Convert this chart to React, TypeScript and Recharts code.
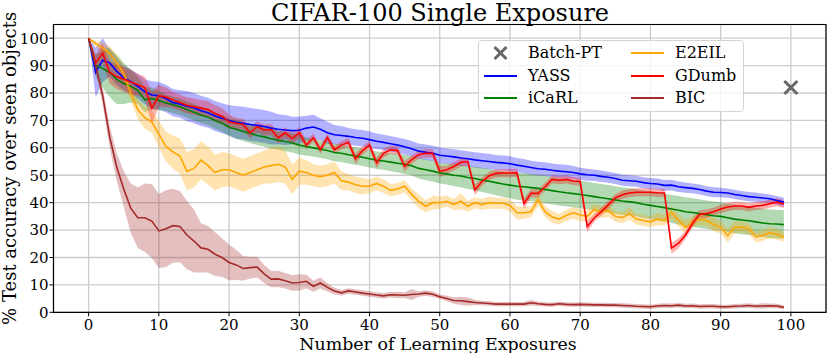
import {
  ComposedChart,
  Area,
  Line,
  Scatter,
  XAxis,
  YAxis,
  CartesianGrid,
  ReferenceArea,
} from "recharts";

// exposures 0..99
const exposures = Array.from({ length: 100 }, (_, i) => i);
const xTicks = [0, 10, 20, 30, 40, 50, 60, 70, 80, 90, 100];
const yTicks = [0, 10, 20, 30, 40, 50, 60, 70, 80, 90, 100];

const yassMean = [
  100, 87.5, 92, 91, 88, 85.5, 84.2, 82.4, 80.5, 79.3,
  79, 78, 76.5, 76, 75.2, 74.5, 73.5, 72.8, 71.6, 70.8,
  70, 69.3, 69, 68.5, 68.2, 67.8, 67.2, 66.8, 66.5, 66.3,
  66.4, 67.2, 67.6, 66.8, 65.5, 64.8, 64.5, 64.2, 63.8, 63.5,
  63, 62.4, 62, 61.5, 61, 60.4, 59.7, 58.8, 58.4, 58,
  57.3, 57, 56.7, 56.3, 56, 55.6, 55.3, 55, 54.7, 54.5,
  54.2, 53.7, 53.3, 52.8, 52.4, 52.2, 51.8, 51.5, 51.3, 51,
  50.5, 50.2, 50, 49.6, 49.3, 48.8, 48.2, 48, 47.8, 47.3,
  47, 46.8, 46.3, 46.4, 45.8, 45.5, 45.2, 44.8, 44.2, 43.8,
  43.7, 43.5, 43, 42.6, 42.2, 42, 41.7, 41.4, 40.8, 40.2,
];
const yassSpread = [
  0, 9, 8, 5, 5, 4.5, 4.5, 4.5, 4.5, 5,
  5, 5, 5, 5, 5.5, 5.5, 5.5, 5.5, 5.5, 5.5,
  5.5, 6, 6, 6, 6, 6, 6, 5.5, 5.5, 5,
  5, 4.5, 4.5, 4, 4, 3.5, 3.5, 3, 3, 3,
  3, 2.8, 2.8, 2.8, 2.8, 2.8, 2.8, 2.8, 2.8, 2.8,
  2.8, 2.8, 2.8, 2.8, 2.8, 2.8, 2.8, 2.8, 2.7, 2.7,
  2.7, 2.6, 2.6, 2.5, 2.5, 2.5, 2.5, 2.5, 2.5, 2.4,
  2.2, 2.2, 2.1, 2.1, 2, 2, 2, 2, 2, 2,
  2, 2, 2, 2, 1.9, 1.9, 1.8, 1.8, 1.8, 1.8,
  1.7, 1.7, 1.7, 1.7, 1.7, 1.7, 1.6, 1.6, 1.6, 1.6,
];

const icarlMean = [
  100, 90, 89, 87.5, 85, 83.5, 82.5, 81, 77.5, 78,
  77.3, 76.4, 75.7, 75, 74, 73, 72, 71.2, 70, 69,
  67.5, 66.8, 66, 65.3, 64.5, 64, 63.3, 62.8, 62.3, 61.8,
  61, 60.5, 60, 59.5, 59, 58.3, 58, 57.5, 57, 56.6,
  56, 55.5, 55.2, 54.8, 54.4, 54, 53.5, 52.5, 52, 51.5,
  50.8, 50.5, 50, 49.7, 49.2, 48.8, 48.3, 47.8, 47.3, 46.8,
  46.4, 46, 45.8, 45.5, 45.2, 44.8, 44.4, 44, 43.6, 43.3,
  43, 42.6, 42.2, 41.8, 41.4, 41, 40.6, 40.3, 40, 39.4,
  39, 38.6, 38.2, 37.7, 37.2, 36.7, 36.4, 36, 35.6, 35.2,
  35, 34.5, 34, 33.7, 33.4, 33, 32.6, 32.3, 32.2, 32,
];
const icarlSpread = [
  0, 4, 7, 9, 9, 7.5, 6, 5, 4.5, 4,
  3.5, 3, 3, 3, 3, 3, 3, 3, 3, 3,
  3.2, 3.5, 3.5, 3.5, 3.5, 3.5, 3.5, 3.5, 3.5, 3.5,
  3.5, 3.3, 3.2, 3.2, 3.2, 3.2, 3.2, 3.2, 3.2, 3.2,
  3.2, 3.2, 3.2, 3.3, 3.4, 3.5, 3.6, 3.7, 3.8, 3.8,
  3.8, 3.9, 4, 4.1, 4.2, 4.3, 4.4, 4.5, 4.6, 4.7,
  4.8, 4.9, 5, 5, 5, 5, 5, 5, 5, 5,
  5, 5, 5, 5, 5, 5, 5, 5, 5, 5,
  5, 5.1, 5.1, 5.1, 5.2, 5.2, 5.2, 5.2, 5.2, 5.2,
  5.2, 5.2, 5.2, 5.2, 5.2, 5.2, 5.2, 5.2, 5.2, 5.2,
];

const e2eilMean = [
  100, 98, 96.5, 94.5, 91, 87, 80, 74, 71, 69.5,
  65, 60.5, 58.5, 57, 51.5, 52.5, 55.5, 53.5, 51, 52,
  52, 51, 50, 51, 52, 53, 53.5, 54, 53, 48.5,
  51.5, 51, 50, 49.5, 50, 51, 48, 47.5, 46.5, 46,
  46, 47, 46, 44.5, 45, 46, 43, 40.5, 38.7, 40,
  40, 40.5, 39.3, 40.5, 38.7, 40, 39.3, 40, 39.8, 39.8,
  39, 36.3, 36.3, 36.7, 41, 36.7, 34.8, 34, 35.3, 36.3,
  35.5, 35, 37.5, 36.5, 37, 35, 34.5, 36, 34, 33.5,
  33, 34, 33.5, 36.5, 33.5, 31, 33, 34, 33.5, 32,
  31, 28, 31, 31, 30.5, 27.5, 28, 29, 28.5, 27.5,
];
const e2eilSpread = [
  0, 1, 2, 2.5, 3, 3, 3, 3.5, 4, 4,
  5, 5.5, 6, 6.5, 7, 7, 7, 7, 6.5, 6.5,
  6, 6, 6, 6, 6, 6, 6.5, 6.5, 6, 5.5,
  5, 4.5, 4, 4, 4, 4, 3.5, 3, 3, 3,
  2.5, 2.5, 2.5, 2.2, 2.2, 2.2, 2.2, 2.5, 2.2, 2.5,
  2.2, 2, 2, 3, 2, 2, 2, 2.2, 2, 2,
  2.2, 2.5, 2.2, 2, 2.2, 2, 2.2, 2, 2, 2.2,
  2.2, 2, 2.2, 2, 2.2, 2, 2, 2.2, 2, 2,
  2, 2.2, 2, 2.5, 2.2, 2.5, 2, 2.2, 2, 2.5,
  2.2, 2.5, 2.2, 2, 2, 2, 2, 2, 2, 1.8,
];

const gdumbMean = [
  100, 91, 94.5, 87.5, 86, 85, 84, 83, 82, 74.5,
  79, 78.5, 77.5, 76.5, 75.5, 75, 74.5, 74, 72.5, 71.5,
  69.5, 69, 68.5, 65.5, 67.7, 66.5, 66.7, 63.7, 65.5, 63.4,
  65.5, 61, 63.7, 59.3, 63.7, 59.3, 61, 62, 56, 59,
  61, 54.5, 58, 59.3, 59, 53.2, 55.7, 57.5, 58, 58,
  51.4, 52, 53.2, 54.7, 55, 44.6, 47.7, 49.7, 50.7, 50.8,
  50.8, 50.9, 39.7, 43.4, 43.4, 45.8, 48.5, 48.2, 48.5, 47.9,
  47.7, 31.3, 34.4, 36.7, 39.2, 41.7, 42.9, 43.5, 43.8, 43.8,
  43.8, 43.6, 43.5, 23.4, 25.2, 28.2, 32.5, 35.8, 36, 36.7,
  37.7, 38.4, 38.8, 38.8, 38.3, 38.8, 39, 39.6, 40.2, 39.5,
];
const gdumbSpread = [
  0, 3, 3.5, 4, 4.5, 4.5, 4.5, 4, 4, 6,
  4, 3.5, 3, 3, 3, 3, 3, 3, 3, 3,
  2.5, 2, 2, 2, 2, 2, 2, 2, 2, 2,
  2, 1.5, 1.5, 1.5, 1.5, 1.5, 1.5, 1.5, 2, 1.5,
  1.5, 2, 1.5, 1.5, 1.5, 2, 1.5, 1.5, 1.5, 1.5,
  2, 1.5, 1.5, 1.5, 1.5, 2, 1.5, 1.5, 1.5, 1.5,
  1.5, 1.5, 2, 1.5, 1.5, 1.5, 1.5, 1.5, 1.5, 1.5,
  1.5, 2, 1.5, 1.5, 1.5, 1.5, 1.5, 1.5, 1.5, 1.5,
  1.5, 1.5, 1.5, 2, 1.8, 1.5, 1.5, 1.5, 1.5, 1.5,
  1.5, 1.5, 1.5, 1.5, 1.5, 1.5, 1.5, 1.5, 1.5, 1.5,
];

const bicMean = [
  100, 90, 79, 64, 53, 45, 38, 34.5, 34.5, 33.3,
  29.7, 30.5, 31.6, 31.3, 28.2, 26, 23.5, 23, 21.2, 20,
  18.2, 17.3, 16, 16.3, 16.5, 14, 12.1, 12.2, 11.5, 10.7,
  10.9, 11.3, 9.5, 10.7, 9.1, 7.8, 7.1, 7.8, 7.4, 7,
  6.7, 6.3, 6, 6.4, 6.3, 6.2, 6.5, 6.7, 7, 6.6,
  5.7, 5, 4.3, 4.2, 3.9, 3.6, 3.4, 3.2, 3, 3,
  3, 3, 3, 3.5, 3.1, 2.9, 2.8, 3.1, 2.9, 2.8,
  2.9, 2.8, 2.7, 2.7, 2.6, 2.6, 2.5, 2.4, 2.2, 2.1,
  2, 2.3, 2.5, 2.4, 2.6, 2.3, 2.4, 2.1, 2.2, 2.2,
  2, 2, 2.2, 2.3, 2.5, 2.2, 2.3, 2.4, 2.3, 1.8,
];
const bicSpread = [
  0, 2, 3, 4, 5, 6.5, 9, 11, 12.5, 13.5,
  13.5, 14, 13.5, 13, 12.5, 11.5, 9, 8.5, 8, 7,
  6.5, 5.5, 4.5, 4, 3.8, 3.3, 3, 3, 2.8, 2.8,
  3, 2.5, 2, 2, 1.5, 1.2, 1, 1, 1, 1,
  1, 1, 1, 1, 1.2, 1, 2, 1, 1, 1,
  0.8, 1, 1.2, 1.5, 1.5, 1, 0.8, 0.8, 0.8, 0.8,
  0.8, 0.8, 0.8, 1, 0.8, 0.8, 0.8, 0.8, 0.8, 0.8,
  0.8, 0.8, 0.8, 0.8, 0.8, 0.8, 0.8, 0.8, 0.8, 0.8,
  0.8, 0.8, 0.8, 0.8, 0.8, 0.8, 0.8, 0.8, 0.8, 0.8,
  0.8, 0.8, 0.8, 0.8, 0.8, 0.8, 1, 0.8, 0.8, 0.8,
];

const batchPt = [{ x: 100, y: 82 }];

const series = [
  { key: "yass", name: "YASS", color: "#0000ff", mean: yassMean, spread: yassSpread },
  { key: "icarl", name: "iCaRL", color: "#008000", mean: icarlMean, spread: icarlSpread },
  { key: "e2eil", name: "E2EIL", color: "#ffa500", mean: e2eilMean, spread: e2eilSpread },
  { key: "gdumb", name: "GDumb", color: "#ff0000", mean: gdumbMean, spread: gdumbSpread },
  { key: "bic", name: "BIC", color: "#a52a2a", mean: bicMean, spread: bicSpread },
];

const rows = exposures.map((x, i) => {
  const row: any = { x };
  series.forEach((s) => {
    row[s.key] = s.mean[i];
    row[s.key + "Band"] = [s.mean[i] - s.spread[i], s.mean[i] + s.spread[i]];
  });
  return row;
});

const SERIF = "'DejaVu Serif', 'Liberation Serif', serif";
const GRAY = "#666666";

const XMark = ({ cx, cy, r = 6.5 }: any) => (
  <g stroke={GRAY} strokeWidth={3}>
    <line x1={cx - r} y1={cy - r} x2={cx + r} y2={cy + r} />
    <line x1={cx - r} y1={cy + r} x2={cx + r} y2={cy - r} />
  </g>
);

const XTick = ({ x, y, payload }: any) => (
  <text x={x} y={y} dy={10} textAnchor="middle" fontSize={15} fontFamily={SERIF} fill="#000">
    {payload.value}
  </text>
);

const YTick = ({ x, y, payload }: any) => (
  <text x={x} y={y} dy={5.4} textAnchor="end" fontSize={15} fontFamily={SERIF} fill="#000">
    {payload.value}
  </text>
);

// legend entries; color null = marker entry
const legendItems = [
  { name: "Batch-PT", color: null },
  { name: "YASS", color: "#0000ff" },
  { name: "iCaRL", color: "#008000" },
  { name: "E2EIL", color: "#ffa500" },
  { name: "GDumb", color: "#ff0000" },
  { name: "BIC", color: "#a52a2a" },
];

const LegendBox = () => (
  <div
    style={{
      position: "absolute",
      left: 478,
      top: 40,
      width: 266,
      height: 72,
      border: "1px solid #d4d4d4",
      borderRadius: 4,
      background: "rgba(255,255,255,0.8)",
      boxSizing: "border-box",
      fontFamily: SERIF,
      fontSize: 16,
      color: "#000",
    }}
  >
    {legendItems.map((item, i) => {
      const col = Math.floor(i / 3);
      const row = i % 3;
      const left = 5 + col * 147;
      const top = 12 + row * 22.5;
      return (
        <div
          key={item.name}
          style={{ position: "absolute", left, top: top - 11, height: 22, display: "flex", alignItems: "center" }}
        >
          <svg width={34} height={22}>
            {item.color ? (
              <line x1={0} y1={11} x2={33} y2={11} stroke={item.color} strokeWidth={1.8} />
            ) : (
              <XMark cx={16.5} cy={11} r={6} />
            )}
          </svg>
          <span style={{ marginLeft: 10, lineHeight: "22px", whiteSpace: "nowrap", fontFamily: SERIF }}>
            {item.name}
          </span>
        </div>
      );
    })}
  </div>
);

const App = () => {
  return (
    <div style={{ position: "relative", width: 830, height: 353, background: "#fff", fontFamily: SERIF }}>
      <style>{`body{margin:0}`}</style>
      <ComposedChart
        width={830}
        height={353}
        data={rows}
        margin={{ top: 24.5, right: 4, left: 0, bottom: 0 }}
      >
        <CartesianGrid stroke="#cccccc" strokeWidth={1.3} />
        <XAxis
          dataKey="x"
          type="number"
          domain={[-5, 105]}
          ticks={xTicks}
          height={40.7}
          tickSize={4}
          tickMargin={3.5}
          axisLine={false}
          tickLine={{ stroke: "#000" }}
          tick={<XTick />}
          interval={0}
          allowDataOverflow
        />
        <YAxis
          type="number"
          domain={[0, 105]}
          ticks={yTicks}
          width={53.5}
          tickSize={4}
          tickMargin={1}
          axisLine={false}
          tickLine={{ stroke: "#000" }}
          tick={<YTick />}
          interval={0}
          allowDataOverflow
        />
        {series.map((s) => (
          <Area
            key={s.key + "Band"}
            dataKey={s.key + "Band"}
            type="linear"
            stroke="none"
            fill={s.color}
            fillOpacity={0.3}
            isAnimationActive={false}
            activeDot={false}
          />
        ))}
        {series.map((s) => (
          <Line
            key={s.key}
            dataKey={s.key}
            type="linear"
            stroke={s.color}
            strokeWidth={1.6}
            dot={false}
            activeDot={false}
            isAnimationActive={false}
          />
        ))}
        <Scatter
          data={batchPt}
          dataKey="y"
          isAnimationActive={false}
          shape={(p: any) => <XMark cx={p.cx} cy={p.cy} r={6.5} />}
        />
        <ReferenceArea
          x1={-5}
          x2={105}
          y1={0}
          y2={105}
          fill="none"
          stroke="#000"
          strokeWidth={1.2}
          ifOverflow="visible"
        />
        <text x={440} y={21} textAnchor="middle" fontSize={24} fontFamily={SERIF} fill="#000">
          CIFAR-100 Single Exposure
        </text>
        <text x={438} y={349.8} textAnchor="middle" fontSize={17.4} fontFamily={SERIF} fill="#000">
          Number of Learning Exposures
        </text>
        <text
          x={16.5}
          y={168.4}
          textAnchor="middle"
          fontSize={18}
          fontFamily={SERIF}
          fill="#000"
          transform="rotate(-90, 16.5, 168.4)"
        >
          % Test accuracy over seen objects
        </text>
      </ComposedChart>
      <LegendBox />
    </div>
  );
};

export default App;
